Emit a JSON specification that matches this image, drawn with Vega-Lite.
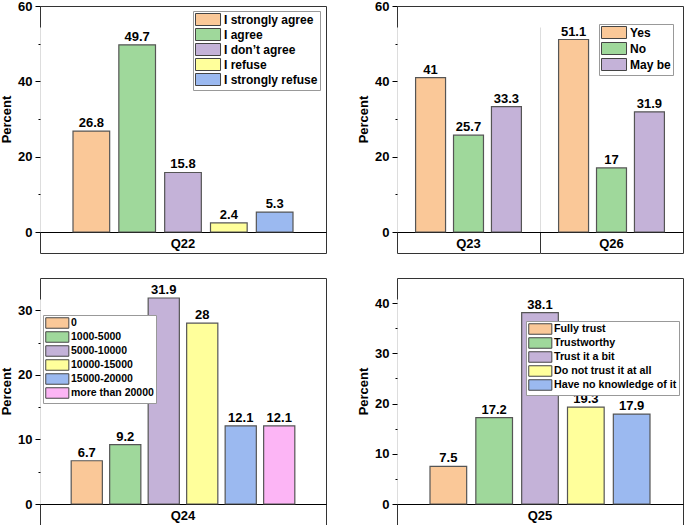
{
  "$schema": "https://vega.github.io/schema/vega-lite/v6.json",
  "padding": {"left": 0, "top": -1, "right": 0, "bottom": 0},
  "background": "white",
  "config": {
    "view": {"stroke": "#333", "strokeWidth": 1},
    "font": "Liberation Sans",
    "axis": {"labelFont": "Liberation Sans", "titleFont": "Liberation Sans", "labelColor": "#000", "titleColor": "#000"},
    "legend": {"labelFont": "Liberation Sans"}
  },
  "columns": 2,
  "spacing": {"row": 23, "column": 30},
  "concat": [
    {
      "width": 286, "height": 247,
      "data": {"values": [
        {"q": "Q22", "a": "I strongly agree", "v": 26.8},
        {"q": "Q22", "a": "I agree", "v": 49.7},
        {"q": "Q22", "a": "I don’t agree", "v": 15.8},
        {"q": "Q22", "a": "I refuse", "v": 2.4},
        {"q": "Q22", "a": "I strongly refuse", "v": 5.3}
      ]},
      "encoding": {
        "x": {"field": "q", "type": "nominal", "scale": {"paddingInner": 0, "paddingOuter": 0},
          "axis": {"title": null, "offset": -21, "domainColor": "#000", "domainWidth": 1, "tickSize": 21, "tickColor": "#333", "bandPosition": 0, "grid": true, "gridColor": "#dddddd", "labelAngle": 0, "labelFontSize": 13, "labelFontWeight": "bold", "labelBaseline": "middle", "labelPadding": -10}},
        "xOffset": {"field": "a", "type": "nominal", "sort": null, "scale": {"paddingInner": 0.2, "paddingOuter": 0.72}},
        "y": {"field": "v", "type": "quantitative", "scale": {"domain": [0, 60], "range": [226, 0], "nice": false},
          "axis": {"title": "Percent", "titleFontSize": 13, "titleFontWeight": "bold", "titlePadding": 4, "values": [0, 10, 20, 30, 40, 50, 60], "labelExpr": "datum.value % 20 === 0 ? datum.label : ''", "tickSize": {"condition": {"test": "datum.value % 20 === 0", "value": 5}, "value": 2}, "tickColor": "#000", "domain": false, "grid": false, "labelFontSize": 13, "labelFontWeight": "bold", "labelPadding": 3}}
      },
      "layer": [
        {"mark": {"type": "bar", "stroke": "#555", "strokeWidth": 1.2},
          "encoding": {"color": {"field": "a", "type": "nominal",
            "scale": {"domain": ["I strongly agree", "I agree", "I don’t agree", "I refuse", "I strongly refuse"], "range": ["#FAC898", "#9FD89B", "#C4B2D8", "#FFFF9B", "#9BB9F0"]},
            "legend": {"title": null, "orient": "none", "legendX": 153, "legendY": 5, "symbolType": "M-1,-1H3.17V1H-1Z", "symbolSize": 144, "symbolStrokeColor": "#444", "symbolStrokeWidth": 1, "symbolOpacity": 1, "labelFontSize": 12, "labelFontWeight": "bold", "labelColor": "#000", "strokeColor": "#999", "fillColor": "white", "padding": 2, "rowPadding": -2, "labelOffset": 16}}}},
        {"mark": {"type": "text", "baseline": "bottom", "dy": -1, "fontSize": 13, "fontWeight": "bold", "color": "#000"},
          "encoding": {"text": {"field": "v", "type": "nominal"}}}
      ]
    },
    {
      "width": 286, "height": 247,
      "data": {"values": [
        {"q": "Q23", "a": "Yes", "v": 41},
        {"q": "Q23", "a": "No", "v": 25.7},
        {"q": "Q23", "a": "May be", "v": 33.3},
        {"q": "Q26", "a": "Yes", "v": 51.1},
        {"q": "Q26", "a": "No", "v": 17},
        {"q": "Q26", "a": "May be", "v": 31.9}
      ]},
      "encoding": {
        "x": {"field": "q", "type": "nominal", "scale": {"paddingInner": 0, "paddingOuter": 0},
          "axis": {"title": null, "offset": -21, "domainColor": "#000", "domainWidth": 1, "tickSize": 21, "tickColor": "#333", "bandPosition": 0, "grid": true, "gridColor": "#dddddd", "labelAngle": 0, "labelFontSize": 13, "labelFontWeight": "bold", "labelBaseline": "middle", "labelPadding": -10}},
        "xOffset": {"field": "a", "type": "nominal", "sort": null, "scale": {"paddingInner": 0.21, "paddingOuter": 0.49}},
        "y": {"field": "v", "type": "quantitative", "scale": {"domain": [0, 60], "range": [226, 0], "nice": false},
          "axis": {"title": "Percent", "titleFontSize": 13, "titleFontWeight": "bold", "titlePadding": 4, "values": [0, 10, 20, 30, 40, 50, 60], "labelExpr": "datum.value % 20 === 0 ? datum.label : ''", "tickSize": {"condition": {"test": "datum.value % 20 === 0", "value": 5}, "value": 2}, "tickColor": "#000", "domain": false, "grid": false, "labelFontSize": 13, "labelFontWeight": "bold", "labelPadding": 3}}
      },
      "layer": [
        {"mark": {"type": "bar", "stroke": "#555", "strokeWidth": 1.2},
          "encoding": {"color": {"field": "a", "type": "nominal",
            "scale": {"domain": ["Yes", "No", "May be"], "range": ["#FAC898", "#9FD89B", "#C4B2D8"]},
            "legend": {"title": null, "orient": "none", "legendX": 202, "legendY": 18, "symbolType": "M-1,-1H3.17V1H-1Z", "symbolSize": 144, "symbolStrokeColor": "#444", "symbolStrokeWidth": 1, "symbolOpacity": 1, "labelFontSize": 12, "labelFontWeight": "bold", "labelColor": "#000", "strokeColor": "#999", "fillColor": "white", "padding": 2, "rowPadding": -1, "labelOffset": 16}}}},
        {"mark": {"type": "text", "baseline": "bottom", "dy": -1, "fontSize": 13, "fontWeight": "bold", "color": "#000"},
          "encoding": {"text": {"field": "v", "type": "nominal"}}}
      ]
    },
    {
      "width": 286, "height": 247,
      "data": {"values": [
        {"q": "Q24", "a": "0", "v": 6.7},
        {"q": "Q24", "a": "1000-5000", "v": 9.2},
        {"q": "Q24", "a": "5000-10000", "v": 31.9},
        {"q": "Q24", "a": "10000-15000", "v": 28},
        {"q": "Q24", "a": "15000-20000", "v": 12.1},
        {"q": "Q24", "a": "more than 20000", "v": 12.1}
      ]},
      "encoding": {
        "x": {"field": "q", "type": "nominal", "scale": {"paddingInner": 0, "paddingOuter": 0},
          "axis": {"title": null, "offset": -21, "domainColor": "#000", "domainWidth": 1, "tickSize": 21, "tickColor": "#333", "bandPosition": 0, "grid": true, "gridColor": "#dddddd", "labelAngle": 0, "labelFontSize": 13, "labelFontWeight": "bold", "labelBaseline": "middle", "labelPadding": -10}},
        "xOffset": {"field": "a", "type": "nominal", "sort": null, "scale": {"paddingInner": 0.19, "paddingOuter": 0.81}},
        "y": {"field": "v", "type": "quantitative", "scale": {"domain": [0, 35], "range": [226, 0], "nice": false},
          "axis": {"title": "Percent", "titleFontSize": 13, "titleFontWeight": "bold", "titlePadding": 4, "values": [0, 5, 10, 15, 20, 25, 30], "labelExpr": "datum.value % 10 === 0 ? datum.label : ''", "tickSize": {"condition": {"test": "datum.value % 10 === 0", "value": 5}, "value": 2}, "tickColor": "#000", "domain": false, "grid": false, "labelFontSize": 13, "labelFontWeight": "bold", "labelPadding": 3}}
      },
      "layer": [
        {"mark": {"type": "bar", "stroke": "#555", "strokeWidth": 1.2},
          "encoding": {"color": {"field": "a", "type": "nominal",
            "scale": {"domain": ["0", "1000-5000", "5000-10000", "10000-15000", "15000-20000", "more than 20000"], "range": ["#FAC898", "#9FD89B", "#C4B2D8", "#FFFF9B", "#9BB9F0", "#FCB5F5"]},
            "legend": {"title": null, "orient": "none", "legendX": 3, "legendY": 37, "symbolType": "M-1,-1H3.4V1H-1Z", "symbolSize": 110, "symbolStrokeColor": "#444", "symbolStrokeWidth": 1, "symbolOpacity": 1, "labelFontSize": 10.5, "labelFontWeight": "bold", "labelColor": "#000", "strokeColor": "#999", "fillColor": "white", "padding": 2, "rowPadding": -2.4, "labelOffset": 14}}}},
        {"mark": {"type": "text", "baseline": "bottom", "dy": -1, "fontSize": 13, "fontWeight": "bold", "color": "#000"},
          "encoding": {"text": {"field": "v", "type": "nominal"}}}
      ]
    },
    {
      "width": 286, "height": 247,
      "data": {"values": [
        {"q": "Q25", "a": "Fully trust", "v": 7.5},
        {"q": "Q25", "a": "Trustworthy", "v": 17.2},
        {"q": "Q25", "a": "Trust it a bit", "v": 38.1},
        {"q": "Q25", "a": "Do not trust it at all", "v": 19.3},
        {"q": "Q25", "a": "Have no knowledge of it", "v": 17.9}
      ]},
      "encoding": {
        "x": {"field": "q", "type": "nominal", "scale": {"paddingInner": 0, "paddingOuter": 0},
          "axis": {"title": null, "offset": -21, "domainColor": "#000", "domainWidth": 1, "tickSize": 21, "tickColor": "#333", "bandPosition": 0, "grid": true, "gridColor": "#dddddd", "labelAngle": 0, "labelFontSize": 13, "labelFontWeight": "bold", "labelBaseline": "middle", "labelPadding": -10}},
        "xOffset": {"field": "a", "type": "nominal", "sort": null, "scale": {"paddingInner": 0.2, "paddingOuter": 0.72}},
        "y": {"field": "v", "type": "quantitative", "scale": {"domain": [0, 45], "range": [226, 0], "nice": false},
          "axis": {"title": "Percent", "titleFontSize": 13, "titleFontWeight": "bold", "titlePadding": 4, "values": [0, 5, 10, 15, 20, 25, 30, 35, 40], "labelExpr": "datum.value % 10 === 0 ? datum.label : ''", "tickSize": {"condition": {"test": "datum.value % 10 === 0", "value": 5}, "value": 2}, "tickColor": "#000", "domain": false, "grid": false, "labelFontSize": 13, "labelFontWeight": "bold", "labelPadding": 3}}
      },
      "layer": [
        {"mark": {"type": "bar", "stroke": "#555", "strokeWidth": 1.2},
          "encoding": {"color": {"field": "a", "type": "nominal",
            "scale": {"domain": ["Fully trust", "Trustworthy", "Trust it a bit", "Do not trust it at all", "Have no knowledge of it"], "range": ["#FAC898", "#9FD89B", "#C4B2D8", "#FFFF9B", "#9BB9F0"]},
            "legend": {"title": null, "orient": "none", "legendX": 129, "legendY": 43, "symbolType": "M-1,-1H3.4V1H-1Z", "symbolSize": 110, "symbolStrokeColor": "#444", "symbolStrokeWidth": 1, "symbolOpacity": 1, "labelFontSize": 10.7, "labelFontWeight": "bold", "labelColor": "#000", "strokeColor": "#999", "fillColor": "white", "padding": 2, "rowPadding": -3, "labelOffset": 14, "labelLimit": 200}}}},
        {"mark": {"type": "text", "baseline": "bottom", "dy": -1, "fontSize": 13, "fontWeight": "bold", "color": "#000"},
          "encoding": {"text": {"field": "v", "type": "nominal"}}}
      ]
    }
  ],
  "resolve": {"scale": {"color": "independent", "x": "independent", "y": "independent", "xOffset": "independent"}}
}
